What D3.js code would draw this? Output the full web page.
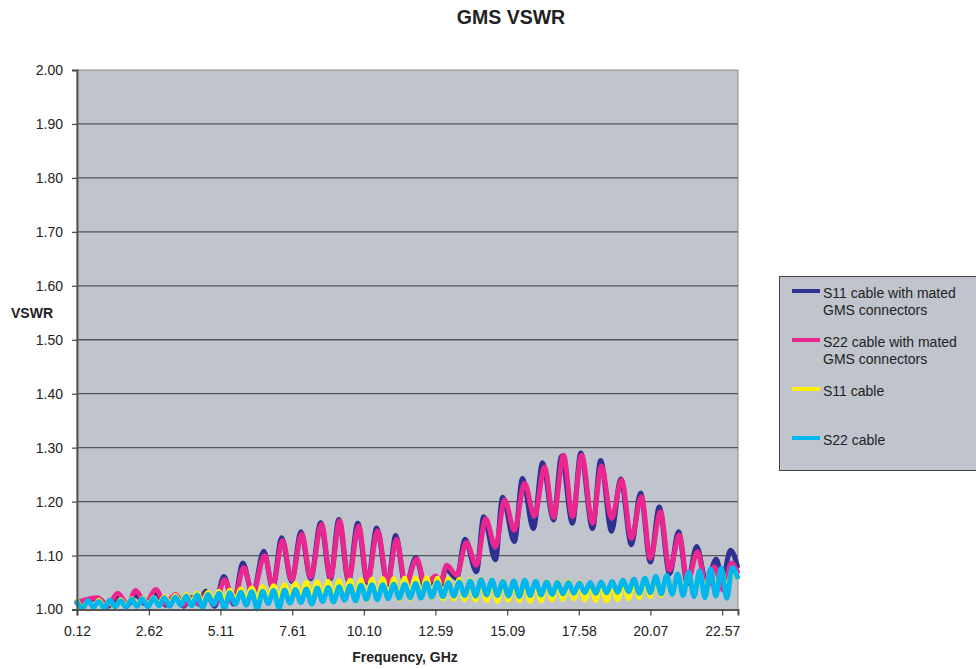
<!DOCTYPE html>
<html><head><meta charset="utf-8">
<script src="https://cdn.jsdelivr.net/npm/d3@7/dist/d3.min.js"></script>
<style>
html,body{margin:0;padding:0;background:#fff;}
svg{display:block;font-family:"Liberation Sans",Arial,sans-serif;}
</style></head>
<body><svg id="chart" width="976" height="669"></svg>
<script>
const chartTitle = "GMS VSWR";
const xAxisTitle = "Frequency, GHz";
const yAxisTitle = "VSWR";
const xTickValues = [0.12, 2.62, 5.11, 7.61, 10.10, 12.59, 15.09, 17.58, 20.07, 22.57];
const yTickValues = [1.0, 1.1, 1.2, 1.3, 1.4, 1.5, 1.6, 1.7, 1.8, 1.9, 2.0];
const seriesNames = ["S11 cable with mated GMS connectors", "S22 cable with mated GMS connectors", "S11 cable", "S22 cable"];

// S11 cable with mated GMS connectors
const s11MatedFreq = [0.12,0.84,1.19,1.54,1.88,2.16,2.51,2.86,3.21,3.55,3.83,4.11,4.39,4.60,4.91,5.23,5.57,5.89,6.23,6.62,6.93,7.24,7.59,7.91,8.25,8.60,8.94,9.23,9.57,9.89,10.23,10.55,10.93,11.21,11.55,11.91,12.25,12.57,12.77,12.95,13.33,13.62,14.02,14.27,14.68,14.93,15.34,15.62,16.00,16.32,16.70,16.98,17.36,17.65,18.06,18.34,18.72,19.04,19.41,19.73,20.07,20.38,20.74,21.05,21.36,21.68,22.02,22.36,22.58,22.86,23.10];
const s11MatedVswr = [1.012,1.020,1.006,1.022,1.008,1.027,1.010,1.030,1.008,1.026,1.006,1.022,1.009,1.034,1.006,1.061,1.010,1.086,1.028,1.108,1.040,1.133,1.052,1.144,1.057,1.161,1.057,1.167,1.053,1.160,1.050,1.151,1.047,1.137,1.044,1.096,1.040,1.058,1.045,1.075,1.058,1.130,1.070,1.172,1.092,1.208,1.126,1.243,1.150,1.272,1.166,1.284,1.160,1.290,1.150,1.276,1.145,1.242,1.120,1.216,1.088,1.190,1.066,1.144,1.048,1.117,1.050,1.093,1.058,1.110,1.080];

// S22 cable with mated GMS connectors
const s22MatedFreq = [0.12,0.84,1.19,1.54,1.88,2.16,2.51,2.86,3.21,3.55,3.83,4.11,4.39,4.63,4.91,5.26,5.57,5.92,6.23,6.65,6.93,7.27,7.59,7.94,8.25,8.63,8.94,9.26,9.57,9.92,10.23,10.58,10.93,11.24,11.55,11.94,12.25,12.60,12.77,12.98,13.33,13.67,14.02,14.34,14.68,15.00,15.34,15.69,16.04,16.39,16.70,17.05,17.36,17.68,18.06,18.37,18.72,19.07,19.41,19.76,20.07,20.42,20.74,21.08,21.36,21.71,22.02,22.30,22.61,22.89,23.10];
const s22MatedVswr = [1.013,1.022,1.008,1.030,1.010,1.035,1.012,1.037,1.010,1.028,1.008,1.020,1.010,1.030,1.010,1.055,1.013,1.078,1.030,1.100,1.043,1.128,1.055,1.140,1.060,1.158,1.060,1.164,1.056,1.155,1.053,1.146,1.050,1.130,1.047,1.093,1.045,1.062,1.049,1.082,1.064,1.124,1.082,1.168,1.116,1.203,1.147,1.234,1.173,1.264,1.171,1.286,1.172,1.286,1.160,1.266,1.169,1.240,1.132,1.209,1.095,1.181,1.073,1.138,1.051,1.107,1.040,1.079,1.036,1.086,1.070];

// Cable-only measurements share one frequency grid
const cableFreq = [
0.12,0.31,0.50,0.69,0.88,1.07,1.26,1.45,1.64,1.83,
2.02,2.21,2.40,2.59,2.78,2.97,3.16,3.35,3.54,3.73,
3.92,4.11,4.30,4.49,4.68,4.87,5.06,5.25,5.44,5.63,
5.82,6.01,6.20,6.39,6.58,6.77,6.96,7.15,7.34,7.53,
7.72,7.91,8.10,8.29,8.48,8.67,8.86,9.05,9.24,9.43,
9.62,9.81,10.00,10.19,10.38,10.57,10.76,10.95,11.14,11.33,
11.52,11.71,11.90,12.09,12.28,12.47,12.66,12.85,13.04,13.23,
13.42,13.61,13.80,13.99,14.18,14.37,14.56,14.75,14.94,15.13,
15.32,15.51,15.70,15.89,16.08,16.27,16.46,16.65,16.84,17.03,
17.22,17.41,17.60,17.79,17.98,18.17,18.36,18.55,18.74,18.93,
19.12,19.31,19.50,19.69,19.88,20.07,20.26,20.45,20.64,20.83,
21.02,21.21,21.40,21.59,21.78,21.97,22.16,22.35,22.54,22.73,
22.92,23.10];

const s11CableVswr = [
1.016,1.004,1.015,1.003,1.017,1.005,1.016,1.004,1.018,1.006,
1.020,1.007,1.021,1.008,1.022,1.009,1.024,1.010,1.026,1.011,
1.028,1.012,1.030,1.013,1.032,1.014,1.034,1.015,1.036,1.016,
1.038,1.017,1.040,1.018,1.042,1.019,1.044,1.020,1.046,1.021,
1.048,1.022,1.050,1.023,1.051,1.022,1.052,1.021,1.053,1.020,
1.054,1.019,1.055,1.018,1.056,1.019,1.057,1.020,1.057,1.019,
1.058,1.020,1.058,1.021,1.059,1.022,1.058,1.020,1.057,1.019,
1.056,1.018,1.055,1.017,1.056,1.016,1.054,1.015,1.053,1.017,
1.052,1.016,1.051,1.015,1.050,1.016,1.052,1.018,1.051,1.019,
1.052,1.020,1.050,1.018,1.049,1.017,1.048,1.016,1.050,1.018,
1.052,1.020,1.055,1.022,1.057,1.024,1.060,1.026,1.062,1.028,
1.065,1.030,1.067,1.031,1.069,1.032,1.070,1.033,1.072,1.034,
1.073,1.060];

const s22CableVswr = [
1.014,1.002,1.016,1.004,1.015,1.003,1.017,1.005,1.016,1.004,
1.019,1.006,1.020,1.005,1.021,1.007,1.022,1.006,1.023,1.008,
1.025,1.007,1.027,1.004,1.028,1.009,1.030,1.002,1.031,1.010,
1.032,1.008,1.033,1.001,1.034,1.011,1.035,1.003,1.036,1.012,
1.037,1.013,1.038,1.010,1.040,1.015,1.041,1.014,1.042,1.017,
1.044,1.016,1.045,1.019,1.046,1.018,1.046,1.020,1.047,1.021,
1.047,1.022,1.048,1.021,1.049,1.023,1.050,1.024,1.050,1.025,
1.051,1.026,1.053,1.025,1.055,1.027,1.054,1.026,1.052,1.025,
1.053,1.024,1.054,1.026,1.052,1.027,1.051,1.028,1.050,1.029,
1.050,1.030,1.049,1.031,1.050,1.030,1.051,1.031,1.052,1.032,
1.054,1.033,1.056,1.030,1.058,1.031,1.061,1.029,1.063,1.028,
1.066,1.026,1.069,1.024,1.072,1.022,1.075,1.025,1.077,1.021,
1.078,1.060];

const seriesColors = ["#2E3192", "#EC268F", "#FFF200", "#00B6EE"];

const svg = d3.select("#chart");
const plot = {left: 77, right: 738, top: 70, bottom: 609.5};
const x = d3.scaleLinear().domain([0.12, 23.12]).range([plot.left, plot.right]);
const y = d3.scaleLinear().domain([1.0, 2.0]).range([plot.bottom, plot.top]);

// plot background
svg.append("rect").attr("x", plot.left).attr("y", plot.top)
  .attr("width", plot.right - plot.left).attr("height", plot.bottom - plot.top)
  .attr("fill", "#C0C4CC").attr("stroke", "#8a8a8a").attr("stroke-width", 1);

// gridlines
svg.append("g").selectAll("line").data(yTickValues.filter(v => v > 1.0 && v < 2.0)).join("line")
  .attr("x1", plot.left).attr("x2", plot.right)
  .attr("y1", d => y(d)).attr("y2", d => y(d))
  .attr("stroke", "#555").attr("stroke-width", 1.3);

// series
const series = [
  {name: seriesNames[0], pts: s11MatedFreq.map((f, i) => [f, s11MatedVswr[i]]), color: seriesColors[0]},
  {name: seriesNames[1], pts: s22MatedFreq.map((f, i) => [f, s22MatedVswr[i]]), color: seriesColors[1]},
  {name: seriesNames[2], pts: cableFreq.map((f, i) => [f, s11CableVswr[i]]), color: seriesColors[2]},
  {name: seriesNames[3], pts: cableFreq.map((f, i) => [f, s22CableVswr[i]]), color: seriesColors[3]}
];
const line = d3.line().x(d => x(d[0])).y(d => y(d[1])).curve(d3.curveMonotoneX);
svg.append("g").selectAll("path").data(series).join("path")
  .attr("d", d => line(d.pts)).attr("fill", "none")
  .attr("stroke", d => d.color).attr("stroke-width", 5)
  .attr("stroke-linejoin", "round").attr("stroke-linecap", "round");

// axes
const yAxis = d3.axisLeft(y).tickValues(yTickValues).tickFormat(d3.format(".2f")).tickSize(5).tickPadding(9);
const gy = svg.append("g").attr("transform", `translate(${plot.left},0)`).call(yAxis);
const xAxis = d3.axisBottom(x).tickValues(xTickValues).tickFormat(d3.format(".2f")).tickSize(6).tickPadding(6);
const gx = svg.append("g").attr("transform", `translate(0,${plot.bottom})`).call(xAxis);
[gx, gy].forEach(g => {
  g.select(".domain").attr("stroke", "#555").attr("stroke-width", 2);
  g.selectAll(".tick line").attr("stroke", "#444").attr("stroke-width", 1.2);
  g.selectAll(".tick text").attr("font-size", 14).attr("fill", "#222")
    .attr("font-family", "'Liberation Sans', Arial, sans-serif");
});
gx.selectAll(".tick text").attr("dy", "1.05em");

// titles
svg.append("text").attr("x", 511).attr("y", 24).attr("text-anchor", "middle")
  .attr("font-size", 19.5).attr("font-weight", "bold").attr("fill", "#222").text(chartTitle);
svg.append("text").attr("x", 11).attr("y", 318)
  .attr("font-size", 14).attr("font-weight", "bold").attr("fill", "#222").text(yAxisTitle);
svg.append("text").attr("x", 405).attr("y", 662).attr("text-anchor", "middle")
  .attr("font-size", 14).attr("font-weight", "bold").attr("fill", "#222").text(xAxisTitle);

// legend
const lg = svg.append("g");
lg.append("rect").attr("x", 779.5).attr("y", 276.5).attr("width", 210).attr("height", 194)
  .attr("fill", "#C0C4CC").attr("stroke", "#444").attr("stroke-width", 1);
const legendLayout = [
  {lineY: 291, lines: ["S11 cable with mated", "GMS connectors"], base: 298},
  {lineY: 340, lines: ["S22 cable with mated", "GMS connectors"], base: 347},
  {lineY: 389, lines: ["S11 cable"], base: 396},
  {lineY: 438, lines: ["S22 cable"], base: 445}
];
legendLayout.forEach((L, i) => {
  lg.append("line").attr("x1", 792).attr("x2", 820).attr("y1", L.lineY).attr("y2", L.lineY)
    .attr("stroke", seriesColors[i]).attr("stroke-width", 4);
  L.lines.forEach((t, j) => {
    lg.append("text").attr("x", 823).attr("y", L.base + j * 17)
      .attr("font-size", 14).attr("fill", "#222").text(t);
  });
});
</script>
</body></html>
